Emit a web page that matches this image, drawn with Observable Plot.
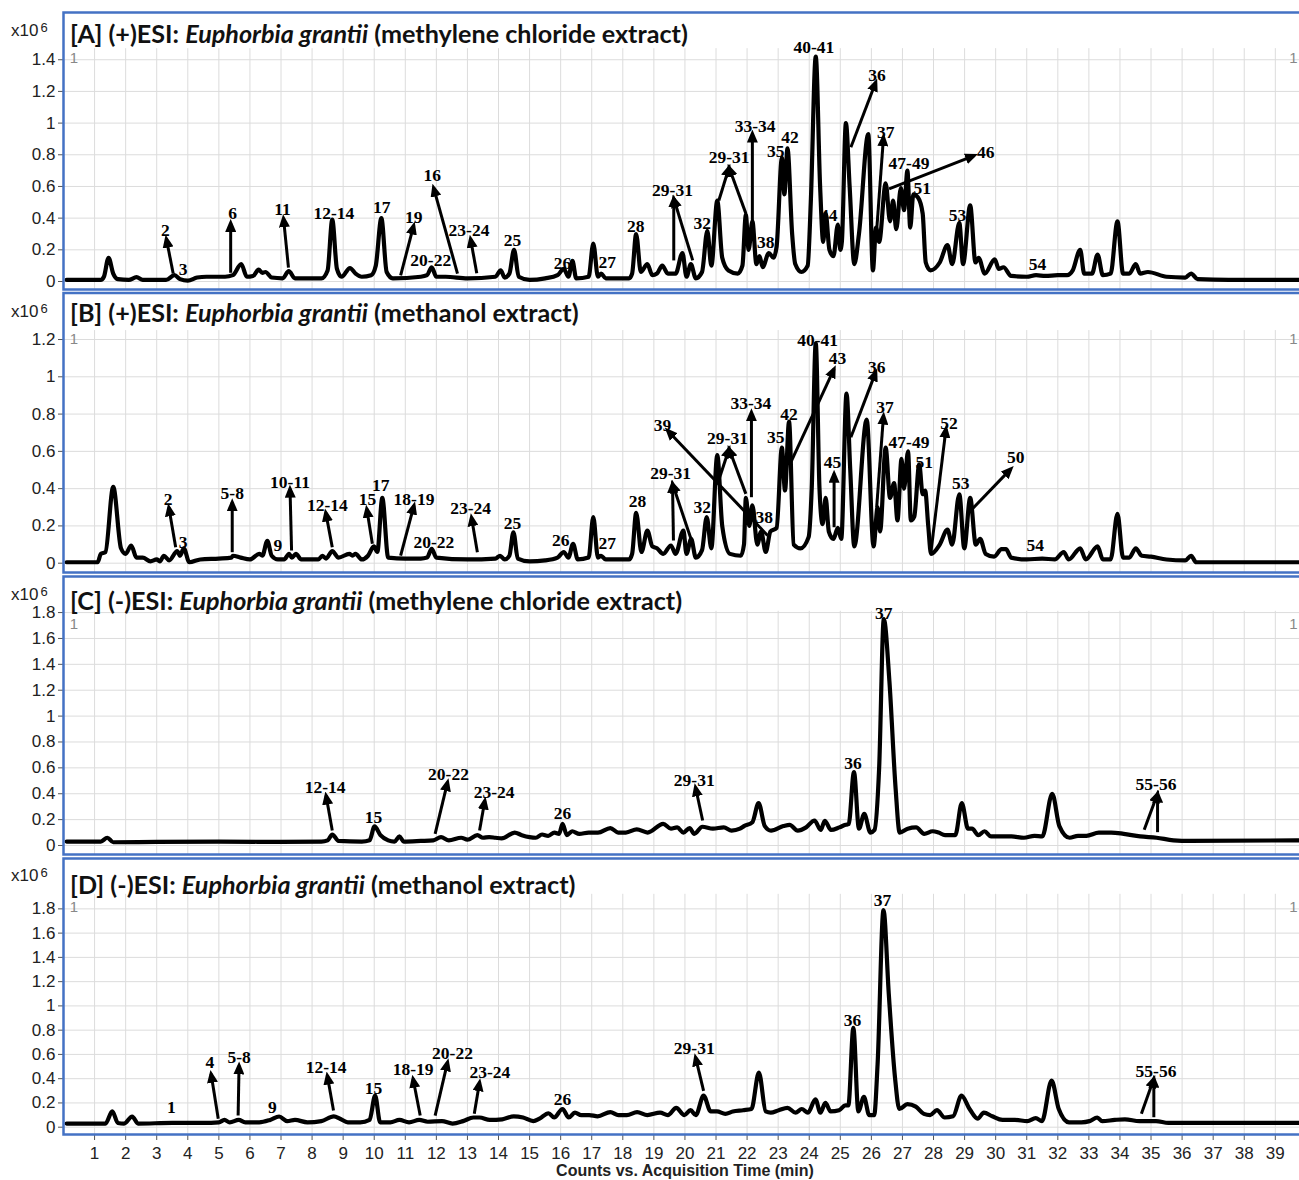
<!DOCTYPE html>
<html><head><meta charset="utf-8">
<script src="https://cdn.jsdelivr.net/npm/d3@7"></script>
<script src="https://cdn.jsdelivr.net/npm/@observablehq/plot@0.6"></script>
<style>
body{margin:0;background:#fff;overflow:hidden}
#wrap{position:relative;width:1299px;height:1180px;overflow:hidden;font-family:"Liberation Sans",Arial,sans-serif;color:#222}
.panel{position:absolute;left:0}
.title{position:absolute;left:70px;font-family:Lato,"Open Sans",sans-serif;font-size:22px;font-weight:700;white-space:nowrap;line-height:26px;color:#111}
.exp{position:absolute;left:11px;font-size:17px;line-height:20px;white-space:nowrap}
.exp sup{font-size:13px;position:relative;top:-3px;vertical-align:top;margin-left:2px}
.xlab{position:absolute;left:0;width:1370px;text-align:center;top:1161px;font-weight:bold;font-size:16px;line-height:19px}
</style></head><body><div id="wrap"></div>
<script>
// ---------- data ----------
const xTicks = [1,2,3,4,5,6,7,8,9,10,11,12,13,14,15,16,17,18,19,20,21,22,23,24,25,26,27,28,29,30,31,32,33,34,35,36,37,38,39];
const yTicksA = [0,0.2,0.4,0.6,0.8,1,1.2,1.4];
const yTicksB = [0,0.2,0.4,0.6,0.8,1,1.2];
const yTicksC = [0,0.2,0.4,0.6,0.8,1,1.2,1.4,1.6,1.8];
const yTicksD = [0,0.2,0.4,0.6,0.8,1,1.2,1.4,1.6,1.8];

const titles = [
  ['[A] (+)ESI: ', 'Euphorbia grantii', ' (methylene chloride extract)'],
  ['[B] (+)ESI: ', 'Euphorbia grantii', ' (methanol extract)'],
  ['[C] (-)ESI: ', 'Euphorbia grantii', ' (methylene chloride extract)'],
  ['[D] (-)ESI: ', 'Euphorbia grantii', ' (methanol extract)']
];
const xTitle = "Counts vs. Acquisition Time (min)";

const traceA = [[0.1,0.01],[1.2,0.01],[1.3,0.03],[1.45,0.15],[1.6,0.05],[1.75,0.015],[2.1,0.01],[2.35,0.027],[2.55,0.01],[3.3,0.01],[3.57,0.04],[3.75,0.015],[4.0,0.005],[4.3,0.025],[4.6,0.03],[5.2,0.03],[5.45,0.04],[5.72,0.11],[5.9,0.03],[6.1,0.035],[6.28,0.075],[6.4,0.055],[6.5,0.06],[6.7,0.025],[7.05,0.02],[7.25,0.065],[7.45,0.02],[8.3,0.02],[8.5,0.07],[8.65,0.39],[8.8,0.08],[8.95,0.03],[9.22,0.085],[9.4,0.05],[9.6,0.03],[9.9,0.04],[10.05,0.1],[10.23,0.40],[10.4,0.06],[10.6,0.02],[11.5,0.03],[11.7,0.04],[11.85,0.09],[12.0,0.03],[12.3,0.03],[13.0,0.02],[13.9,0.03],[14.07,0.07],[14.2,0.025],[14.35,0.05],[14.5,0.2],[14.65,0.03],[15.0,0.01],[15.5,0.02],[15.9,0.04],[16.1,0.08],[16.25,0.03],[16.38,0.13],[16.5,0.02],[16.9,0.03],[17.05,0.24],[17.2,0.03],[17.3,0.05],[17.45,0.02],[18.2,0.02],[18.3,0.05],[18.43,0.30],[18.58,0.06],[18.79,0.11],[18.95,0.04],[19.1,0.05],[19.27,0.1],[19.45,0.05],[19.7,0.05],[19.92,0.18],[20.05,0.03],[20.19,0.11],[20.35,0.02],[20.55,0.06],[20.72,0.32],[20.85,0.1],[21.04,0.51],[21.2,0.15],[21.4,0.07],[21.7,0.05],[21.85,0.1],[21.96,0.42],[22.05,0.2],[22.17,0.38],[22.3,0.11],[22.4,0.16],[22.5,0.09],[22.7,0.18],[22.85,0.15],[22.95,0.22],[23.12,0.78],[23.2,0.55],[23.3,0.84],[23.45,0.3],[23.55,0.11],[23.75,0.06],[23.95,0.1],[24.05,0.5],[24.21,1.42],[24.35,0.6],[24.45,0.25],[24.53,0.43],[24.65,0.2],[24.78,0.16],[24.92,0.36],[25.0,0.2],[25.05,0.25],[25.18,1.0],[25.3,0.6],[25.45,0.11],[25.6,0.3],[25.9,0.93],[26.05,0.07],[26.15,0.34],[26.25,0.25],[26.46,0.62],[26.6,0.38],[26.7,0.51],[26.8,0.33],[26.95,0.59],[27.05,0.45],[27.16,0.70],[27.25,0.34],[27.35,0.55],[27.5,0.53],[27.65,0.43],[27.75,0.12],[27.9,0.07],[28.2,0.12],[28.45,0.23],[28.6,0.11],[28.83,0.37],[28.95,0.11],[29.18,0.48],[29.35,0.12],[29.45,0.15],[29.65,0.05],[29.97,0.14],[30.1,0.08],[30.25,0.09],[30.5,0.035],[31.0,0.03],[31.3,0.04],[31.6,0.035],[32.0,0.04],[32.3,0.04],[32.48,0.07],[32.72,0.2],[32.85,0.05],[33.1,0.05],[33.28,0.17],[33.45,0.04],[33.7,0.05],[33.92,0.38],[34.1,0.05],[34.3,0.05],[34.51,0.11],[34.65,0.05],[34.9,0.06],[35.5,0.03],[36.1,0.025],[36.29,0.05],[36.5,0.015],[37.5,0.01],[39.8,0.01]];

const traceB = [[0.1,0.005],[1.1,0.005],[1.2,0.05],[1.35,0.06],[1.6,0.41],[1.85,0.08],[2.0,0.05],[2.18,0.095],[2.35,0.03],[2.55,0.03],[2.8,0.01],[3.0,0.02],[3.1,0.01],[3.23,0.04],[3.4,0.015],[3.66,0.065],[3.75,0.04],[3.87,0.08],[4.05,0.005],[4.4,0.02],[5.0,0.025],[5.4,0.03],[5.45,0.04],[5.7,0.03],[6.0,0.02],[6.3,0.05],[6.4,0.04],[6.56,0.12],[6.7,0.04],[6.9,0.02],[7.1,0.02],[7.26,0.05],[7.35,0.03],[7.48,0.05],[7.65,0.02],[8.2,0.02],[8.33,0.04],[8.45,0.025],[8.65,0.065],[8.85,0.03],[9.2,0.05],[9.3,0.04],[9.4,0.05],[9.6,0.02],[9.8,0.04],[9.99,0.09],[10.1,0.06],[10.26,0.35],[10.45,0.03],[11.0,0.025],[11.5,0.025],[11.7,0.03],[11.85,0.077],[12.0,0.03],[13.0,0.02],[13.9,0.025],[14.05,0.04],[14.2,0.02],[14.35,0.04],[14.48,0.166],[14.62,0.025],[15.0,0.01],[15.5,0.015],[15.9,0.03],[16.1,0.06],[16.25,0.03],[16.4,0.104],[16.55,0.02],[16.9,0.03],[17.05,0.247],[17.2,0.03],[17.3,0.04],[17.45,0.02],[18.2,0.02],[18.3,0.05],[18.43,0.27],[18.6,0.06],[18.79,0.175],[18.95,0.09],[19.1,0.08],[19.3,0.05],[19.55,0.095],[19.7,0.05],[19.95,0.175],[20.05,0.05],[20.2,0.13],[20.35,0.03],[20.55,0.07],[20.7,0.247],[20.85,0.08],[21.04,0.58],[21.2,0.2],[21.45,0.05],[21.8,0.04],[21.9,0.1],[21.96,0.35],[22.07,0.2],[22.17,0.31],[22.33,0.1],[22.45,0.17],[22.6,0.06],[22.75,0.17],[22.95,0.19],[23.12,0.62],[23.22,0.39],[23.35,0.76],[23.5,0.1],[23.72,0.08],[23.98,0.14],[24.08,0.4],[24.21,1.18],[24.33,0.4],[24.43,0.21],[24.53,0.35],[24.63,0.17],[24.78,0.13],[24.92,0.19],[25.03,0.13],[25.2,0.91],[25.32,0.5],[25.45,0.09],[25.85,0.77],[26.07,0.09],[26.2,0.3],[26.28,0.17],[26.46,0.62],[26.6,0.35],[26.73,0.43],[26.84,0.23],[26.97,0.56],[27.05,0.4],[27.18,0.60],[27.27,0.23],[27.38,0.25],[27.54,0.53],[27.65,0.37],[27.73,0.39],[27.83,0.2],[27.92,0.05],[28.2,0.1],[28.45,0.18],[28.6,0.1],[28.83,0.37],[28.99,0.08],[29.18,0.35],[29.36,0.1],[29.5,0.13],[29.68,0.05],[29.95,0.035],[30.19,0.075],[30.33,0.075],[30.5,0.03],[31.0,0.02],[31.5,0.025],[31.9,0.02],[32.19,0.06],[32.35,0.02],[32.72,0.08],[32.9,0.02],[33.28,0.09],[33.45,0.02],[33.7,0.02],[33.92,0.265],[34.1,0.03],[34.3,0.03],[34.51,0.08],[34.7,0.04],[35.0,0.035],[35.5,0.02],[36.1,0.015],[36.29,0.04],[36.45,0.005],[39.8,0.005]];

const traceC = [[0.1,0.03],[1.2,0.03],[1.41,0.06],[1.6,0.025],[3,0.028],[5,0.03],[7,0.028],[8.3,0.03],[8.5,0.04],[8.65,0.085],[8.85,0.035],[9.6,0.03],[9.85,0.04],[10.01,0.147],[10.2,0.08],[10.45,0.04],[10.65,0.03],[10.81,0.07],[10.95,0.03],[11.5,0.035],[11.9,0.04],[12.15,0.065],[12.4,0.04],[12.8,0.06],[13.0,0.045],[13.32,0.08],[13.5,0.06],[13.7,0.065],[13.9,0.06],[14.1,0.055],[14.52,0.1],[14.75,0.08],[15.0,0.065],[15.2,0.06],[15.4,0.085],[15.6,0.075],[15.8,0.1],[15.95,0.09],[16.06,0.167],[16.2,0.08],[16.37,0.11],[16.6,0.09],[16.9,0.1],[17.2,0.1],[17.6,0.135],[17.85,0.1],[18.1,0.1],[18.45,0.125],[18.8,0.1],[19.3,0.167],[19.55,0.13],[19.75,0.14],[19.95,0.1],[20.15,0.135],[20.3,0.09],[20.56,0.145],[20.9,0.13],[21.25,0.14],[21.5,0.115],[21.77,0.13],[21.9,0.15],[22.17,0.18],[22.37,0.327],[22.57,0.15],[22.77,0.115],[23.17,0.15],[23.37,0.16],[23.63,0.115],[23.9,0.14],[24.17,0.193],[24.37,0.12],[24.5,0.19],[24.7,0.12],[24.97,0.14],[25.17,0.16],[25.27,0.165],[25.44,0.567],[25.6,0.13],[25.77,0.245],[25.97,0.1],[26.1,0.12],[26.25,0.6],[26.4,1.75],[26.58,1.27],[26.78,0.44],[26.91,0.1],[27.17,0.13],[27.44,0.14],[27.7,0.09],[27.97,0.11],[28.16,0.1],[28.37,0.08],[28.7,0.08],[28.91,0.327],[29.11,0.13],[29.24,0.13],[29.44,0.08],[29.64,0.11],[29.85,0.07],[30.18,0.07],[30.51,0.07],[30.91,0.06],[31.25,0.075],[31.5,0.07],[31.82,0.4],[32.05,0.15],[32.38,0.06],[32.65,0.075],[32.92,0.075],[33.32,0.1],[33.72,0.1],[34.12,0.09],[34.65,0.07],[35.18,0.06],[35.72,0.04],[36.25,0.035],[39.8,0.04]];

const traceD = [[0.1,0.03],[1.35,0.03],[1.57,0.13],[1.75,0.035],[1.95,0.03],[2.21,0.088],[2.4,0.03],[3.5,0.035],[4.5,0.035],[5.0,0.04],[5.18,0.06],[5.35,0.04],[5.64,0.06],[5.85,0.04],[6.3,0.04],[6.65,0.06],[6.94,0.088],[7.2,0.05],[7.45,0.06],[7.85,0.04],[8.3,0.05],[8.7,0.09],[8.9,0.07],[9.15,0.04],[9.55,0.04],[9.85,0.06],[10.03,0.26],[10.19,0.04],[10.52,0.04],[10.81,0.06],[11.12,0.04],[11.45,0.06],[11.72,0.045],[12.18,0.05],[12.52,0.03],[12.86,0.05],[13.19,0.08],[13.39,0.08],[13.72,0.06],[14.12,0.065],[14.49,0.09],[14.79,0.08],[15.12,0.05],[15.32,0.07],[15.61,0.115],[15.79,0.08],[16.06,0.15],[16.26,0.08],[16.46,0.12],[16.66,0.1],[16.92,0.1],[17.19,0.09],[17.6,0.125],[17.86,0.1],[18.13,0.1],[18.46,0.125],[18.79,0.1],[19.2,0.12],[19.45,0.1],[19.72,0.16],[19.98,0.1],[20.18,0.14],[20.35,0.1],[20.6,0.26],[20.83,0.13],[21.03,0.13],[21.3,0.11],[21.54,0.13],[21.87,0.14],[22.14,0.15],[22.38,0.45],[22.6,0.13],[22.76,0.12],[23.02,0.14],[23.3,0.16],[23.56,0.12],[23.76,0.15],[23.96,0.12],[24.2,0.23],[24.36,0.12],[24.52,0.2],[24.69,0.13],[24.96,0.14],[25.16,0.18],[25.26,0.18],[25.42,0.82],[25.58,0.13],[25.76,0.25],[25.93,0.1],[26.09,0.1],[26.2,0.52],[26.39,1.79],[26.56,1.1],[26.76,0.41],[26.9,0.15],[27.16,0.19],[27.43,0.17],[27.69,0.11],[27.89,0.1],[28.11,0.14],[28.36,0.08],[28.63,0.09],[28.9,0.26],[29.16,0.15],[29.42,0.07],[29.62,0.12],[29.89,0.09],[30.22,0.06],[30.62,0.06],[31.02,0.05],[31.29,0.075],[31.49,0.05],[31.8,0.385],[32.03,0.15],[32.36,0.04],[32.76,0.04],[33.02,0.05],[33.27,0.08],[33.43,0.05],[33.83,0.06],[34.16,0.065],[34.63,0.05],[35.16,0.05],[35.56,0.035],[39.8,0.035]];

const labelsA = [["2",3.28,0.32],["3",3.85,0.074],["6",5.44,0.43],["11",7.05,0.455],["12-14",8.70,0.43],["17",10.24,0.465],["19",11.27,0.404],["20-22",11.82,0.133],["16",11.87,0.669],["23-24",13.05,0.322],["25",14.45,0.259],["26",16.06,0.114],["27",17.50,0.122],["28",18.42,0.347],["29-31",19.60,0.574],["32",20.56,0.366],["29-31",21.42,0.783],["33-34",22.26,0.978],["38",22.60,0.246],["35",22.92,0.823],["42",23.38,0.91],["40-41",24.15,1.479],["44",24.63,0.416],["36",26.18,1.30],["37",26.46,0.942],["47-49",27.21,0.743],["46",29.68,0.816],["51",27.64,0.585],["53",28.77,0.416],["54",31.35,0.111]];
const arrowsA = [[3.53,0.05,3.31,0.27],[5.38,0.055,5.38,0.37],[7.24,0.088,7.08,0.40],[10.85,0.038,11.27,0.354],[12.68,0.05,11.91,0.593],[13.30,0.052,13.10,0.27],[19.64,0.133,19.64,0.524],[20.25,0.133,19.64,0.524],[21.09,0.511,21.42,0.72],[21.96,0.43,21.42,0.72],[22.17,0.26,22.17,0.934],[25.34,0.848,26.14,1.258],[26.17,0.322,26.39,0.911],[26.57,0.585,29.31,0.795]];

const labelsB = [["2",3.37,0.34],["3",3.85,0.113],["5-8",5.43,0.372],["9",6.90,0.095],["10-11",7.29,0.435],["12-14",8.49,0.31],["15",9.78,0.345],["17",10.21,0.417],["18-19",11.28,0.345],["20-22",11.92,0.113],["23-24",13.10,0.292],["25",14.45,0.211],["26",16.0,0.122],["27",17.5,0.104],["28",18.47,0.333],["29-31",19.54,0.48],["32",20.56,0.30],["29-31",21.37,0.667],["33-34",22.12,0.855],["39",19.28,0.739],["38",22.55,0.247],["35",22.92,0.676],["42",23.35,0.80],["40-41",24.27,1.195],["43",24.91,1.097],["45",24.75,0.542],["36",26.17,1.052],["37",26.44,0.837],["47-49",27.21,0.649],["51",27.70,0.542],["52",28.50,0.748],["53",28.88,0.429],["50",30.65,0.569],["54",31.27,0.095]];
const arrowsB = [[3.61,0.086,3.39,0.30],[5.43,0.059,5.43,0.327],[7.34,0.068,7.29,0.40],[8.65,0.086,8.44,0.272],[9.94,0.104,9.76,0.292],[10.85,0.041,11.28,0.31],[13.32,0.059,13.13,0.247],[19.63,0.122,19.60,0.426],[20.19,0.133,19.60,0.426],[21.05,0.426,21.42,0.614],[21.96,0.372,21.42,0.614],[22.14,0.354,22.14,0.81],[22.66,0.149,19.44,0.712],[23.41,0.542,24.80,1.043],[24.80,0.193,24.80,0.48],[25.34,0.676,26.14,1.025],[26.17,0.30,26.39,0.792],[27.91,0.05,28.40,0.721],[29.2,0.283,30.49,0.506]];

const labelsC = [["12-14",8.42,0.45],["15",9.98,0.219],["20-22",12.39,0.549],["23-24",13.86,0.412],["26",16.06,0.245],["29-31",20.30,0.50],["36",25.41,0.636],["37",26.40,1.795],["55-56",35.16,0.471]];
const arrowsC = [[8.65,0.116,8.45,0.386],[11.96,0.09,12.36,0.49],[13.39,0.116,13.56,0.348],[20.57,0.193,20.34,0.45],[34.78,0.121,35.21,0.40],[35.21,0.103,35.21,0.40]];

const labelsD = [["1",3.47,0.165],["4",4.71,0.536],["5-8",5.65,0.572],["9",6.72,0.165],["12-14",8.45,0.49],["15",9.98,0.32],["18-19",11.25,0.48],["20-22",12.52,0.61],["23-24",13.72,0.453],["26",16.06,0.226],["29-31",20.30,0.646],["36",25.39,0.88],["37",26.36,1.869],["55-56",35.16,0.462]];
const arrowsD = [[4.98,0.069,4.75,0.44],[5.62,0.096,5.65,0.509],[8.69,0.138,8.49,0.426],[11.48,0.096,11.25,0.40],[11.96,0.096,12.36,0.536],[13.22,0.11,13.39,0.371],[20.6,0.30,20.34,0.577],[34.69,0.11,35.09,0.40],[35.09,0.082,35.09,0.40]];

// trace-number marker "1" (top-left and top-right of each panel), value level
const traceNoLevel = [1.41, 1.20, 1.71, 1.81];

// ---------- layout ----------
const panels = [
  {top:0,   height:292, mt:12,  mb:3,  dom:[-0.0505,1.6982], ticks:yTicksA, gridTop:1.47,  trace:traceA, labels:labelsA, arrows:arrowsA, titleY:20,  expY:21},
  {top:290, height:284, mt:2.5, mb:2,  dom:[-0.0499,1.4496], ticks:yTicksB, gridTop:1.248, trace:traceB, labels:labelsB, arrows:arrowsB, titleY:299, expY:302},
  {top:574, height:282, mt:2,   mb:2,  dom:[-0.0696,2.0788], ticks:yTicksC, gridTop:1.81,  trace:traceC, labels:labelsC, arrows:arrowsC, titleY:587, expY:585},
  {top:856, height:324, mt:2,   mb:46, dom:[-0.0602,2.2152], ticks:yTicksD, gridTop:1.92,  trace:traceD, labels:labelsD, arrows:arrowsD, titleY:871, expY:866}
];

const wrap = document.getElementById("wrap");
const fmt = d3.format("~g");

function triHead(color) {
  const ns = "http://www.w3.org/2000/svg";
  const m = document.createElementNS(ns, "marker");
  m.setAttribute("viewBox", "0 0 13 11");
  m.setAttribute("markerWidth", "13");
  m.setAttribute("markerHeight", "11");
  m.setAttribute("refX", "9");
  m.setAttribute("refY", "5.5");
  m.setAttribute("orient", "auto");
  m.setAttribute("markerUnits", "userSpaceOnUse");
  const p = document.createElementNS(ns, "path");
  p.setAttribute("d", "M0,0L13,5.5L0,11Z");
  p.setAttribute("fill", "black");
  p.setAttribute("stroke", "none");
  m.appendChild(p);
  return m;
}

panels.forEach((p, i) => {
  const last = i === panels.length - 1;
  const build = (marker) => Plot.plot({
    width: 1309, height: p.height,
    marginLeft: 63, marginRight: 0, marginTop: p.mt, marginBottom: p.mb,
    style: {fontFamily: '"Liberation Sans", Arial, sans-serif', fontSize: "17px", background: "transparent", overflow: "visible", color: "#222"},
    x: {domain: [0, 40.1], axis: null},
    y: {domain: p.dom, axis: null},
    marks: [
      Plot.ruleY(p.ticks, {stroke: "#dcdcdc", strokeWidth: 1}),
      Plot.ruleX(xTicks, {y1: p.dom[0], y2: p.gridTop, stroke: "#dcdcdc", strokeWidth: 1}),
      Plot.axisY({ticks: p.ticks, tickFormat: fmt, tickSize: 5, tickPadding: 3, fontSize: 17, stroke: "#555", label: null}),
      last ? Plot.axisX({ticks: xTicks, tickFormat: fmt, tickSize: 6, tickPadding: 6, fontSize: 17, stroke: "#555", label: null}) : null,
      Plot.text([traceNoLevel[i]], {x: 0.2, y: d => d, text: () => "1", textAnchor: "start", fill: "#888", fontSize: 15}),
      Plot.text([traceNoLevel[i]], {x: 39.45, y: d => d, text: () => "1", textAnchor: "start", fill: "#888", fontSize: 15}),
      Plot.line(p.trace, {x: d => d[0], y: d => d[1], curve: "monotone-x", stroke: "black", strokeWidth: 4.2, strokeLinejoin: "round", strokeLinecap: "round"}),
      Plot.link(p.arrows, {x1: d => d[0], y1: d => d[1], x2: d => d[2], y2: d => d[3], stroke: "black", strokeWidth: 3, markerEnd: marker}),
      Plot.text(p.labels, {x: d => d[1], y: d => d[2], text: d => d[0], fontFamily: '"Liberation Serif", "Times New Roman", serif', fontWeight: "bold", fontSize: 17.5, fill: "black"}),
      Plot.frame({stroke: "#4472C4", strokeWidth: 2.5})
    ]
  });
  let chart;
  try { chart = build(triHead); } catch (e) { chart = build("arrow"); }
  chart.classList.add("panel");
  chart.style.position = "absolute";
  chart.style.maxWidth = "none";
  chart.style.width = "1309px";
  chart.style.height = p.height + "px";
  chart.style.top = p.top + "px";
  chart.style.left = "0px";
  wrap.appendChild(chart);

  const t = document.createElement("div");
  t.className = "title";
  t.style.top = p.titleY + "px";
  const a = document.createElement("span"); a.textContent = titles[i][0];
  const b = document.createElement("i"); b.textContent = titles[i][1];
  const c = document.createElement("span"); c.textContent = titles[i][2];
  t.append(a, b, c);
  wrap.appendChild(t);

  const e = document.createElement("div");
  e.className = "exp";
  e.style.top = p.expY + "px";
  e.innerHTML = "x10<sup>6</sup>";
  wrap.appendChild(e);
});

const xl = document.createElement("div");
xl.className = "xlab";
xl.textContent = xTitle;
wrap.appendChild(xl);

// fit title font so that panel A's title spans its width in the reference
const tA = wrap.querySelector(".title");
const w = tA.getBoundingClientRect().width;
const fs = 22 * 618 / w;
wrap.querySelectorAll(".title").forEach(el => el.style.fontSize = fs.toFixed(2) + "px");
</script></body></html>
